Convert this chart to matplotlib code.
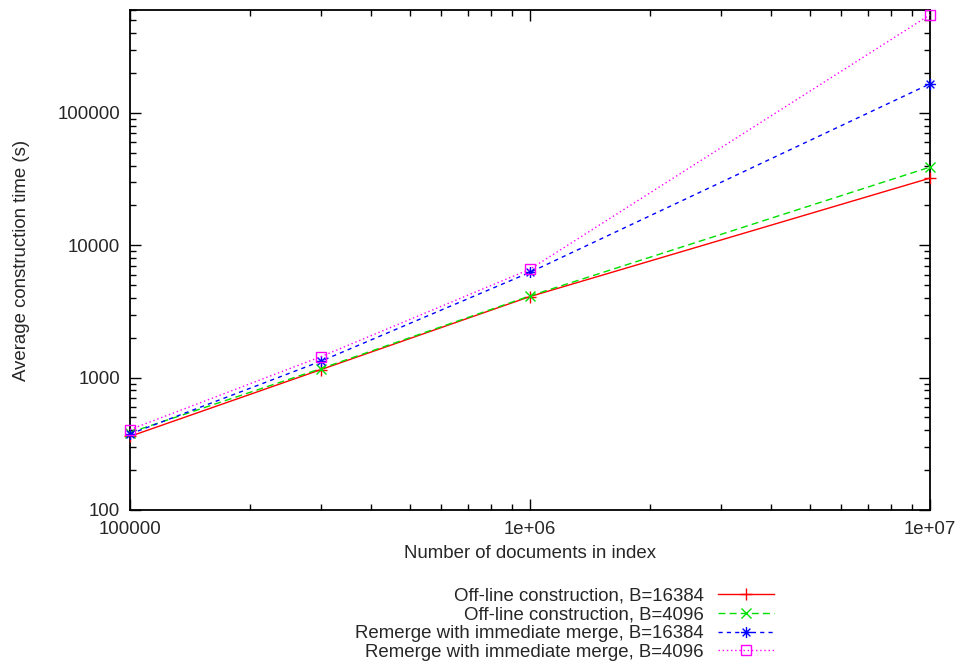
import numpy as np
import matplotlib
matplotlib.use("Agg")
from matplotlib import pyplot as plt
from matplotlib.path import Path
from matplotlib.ticker import FixedLocator, LogLocator, FuncFormatter, NullFormatter

# index sizes (number of documents)
docs = [1e5, 3e5, 1e6, 1e7]

# average construction time in seconds
offline_16384 = [360, 1150, 4100, 32200]
offline_4096 = [385, 1170, 4150, 39000]
remerge_16384 = [375, 1330, 6250, 166000]
remerge_4096 = [405, 1440, 6600, 552000]

labels = [
    "Off-line construction, B=16384",
    "Off-line construction, B=4096",
    "Remerge with immediate merge, B=16384",
    "Remerge with immediate merge, B=4096",
]

x_ticks = [1e5, 1e6, 1e7]
x_tick_labels = ["100000", "1e+06", "1e+07"]
y_ticks = [100, 1000, 10000, 100000]
y_tick_labels = ["100", "1000", "10000", "100000"]

# gnuplot-like star marker: a plus and a cross together
star = Path(
    [(-1, 0), (1, 0), (0, -1), (0, 1), (-0.7, -0.7), (0.7, 0.7), (-0.7, 0.7), (0.7, -0.7)],
    [Path.MOVETO, Path.LINETO] * 4,
)

plt.rcParams["font.family"] = ["Liberation Sans", "DejaVu Sans"]
plt.rcParams["font.size"] = 13.4
txt = "#262626"

fig = plt.figure(figsize=(9.62, 6.66), dpi=100)
ax = fig.add_axes([130 / 962, 1 - 510 / 666, 800 / 962, 500 / 666])

lw = 1.0
ax.plot(docs, offline_16384, color="#ff0000", lw=lw, ls="-",
        marker="+", ms=9, mew=1.0, clip_on=False, label=labels[0])
ax.plot(docs, offline_4096, color="#00e000", lw=lw, ls=(0, (5, 3)),
        marker="x", ms=7, mew=1.0, clip_on=False, label=labels[1])
ax.plot(docs, remerge_16384, color="#0000ff", lw=lw, ls=(0, (3, 3)),
        marker=star, ms=8, mew=1.0, clip_on=False, label=labels[2])
ax.plot(docs, remerge_4096, color="#ff00ff", lw=lw, ls=(0, (1, 2)),
        marker="s", ms=7, mew=1.0, mfc="none", clip_on=False, label=labels[3])

ax.set_xscale("log")
ax.set_yscale("log")
ax.set_xlim(1e5, 1e7)
ax.set_ylim(100, 600000)

ax.xaxis.set_major_locator(FixedLocator(x_ticks))
ax.xaxis.set_major_formatter(FuncFormatter(lambda v, p: x_tick_labels[x_ticks.index(v)] if v in x_ticks else ""))
ax.xaxis.set_minor_locator(LogLocator(base=10, subs=np.arange(2, 10)))
ax.xaxis.set_minor_formatter(NullFormatter())
ax.yaxis.set_major_locator(FixedLocator(y_ticks))
ax.yaxis.set_major_formatter(FuncFormatter(lambda v, p: y_tick_labels[y_ticks.index(v)] if v in y_ticks else ""))
ax.yaxis.set_minor_locator(LogLocator(base=10, subs=np.arange(2, 10)))
ax.yaxis.set_minor_formatter(NullFormatter())

ax.tick_params(which="both", direction="in", top=True, right=True, colors="black", labelcolor=txt)
ax.tick_params(which="major", length=8, width=1.0)
ax.tick_params(axis="x", which="major", pad=8)
ax.tick_params(axis="y", which="major", pad=7)
ax.tick_params(which="minor", length=4, width=1.0)
for s in ax.spines.values():
    s.set_linewidth(1.3)
    s.set_zorder(1)

ax.set_xlabel("Number of documents in index", color=txt, labelpad=5)
ax.set_ylabel("Average construction time (s)", color=txt, labelpad=20)

fig.legend(loc="upper right", bbox_to_anchor=(783 / 962, 1 - 578 / 666),
           frameon=False, markerfirst=False, numpoints=1, handlelength=3.0,
           handletextpad=0.75, labelspacing=0.1, borderpad=0,
           labelcolor=txt)

fig.savefig("out.png", dpi=100)
